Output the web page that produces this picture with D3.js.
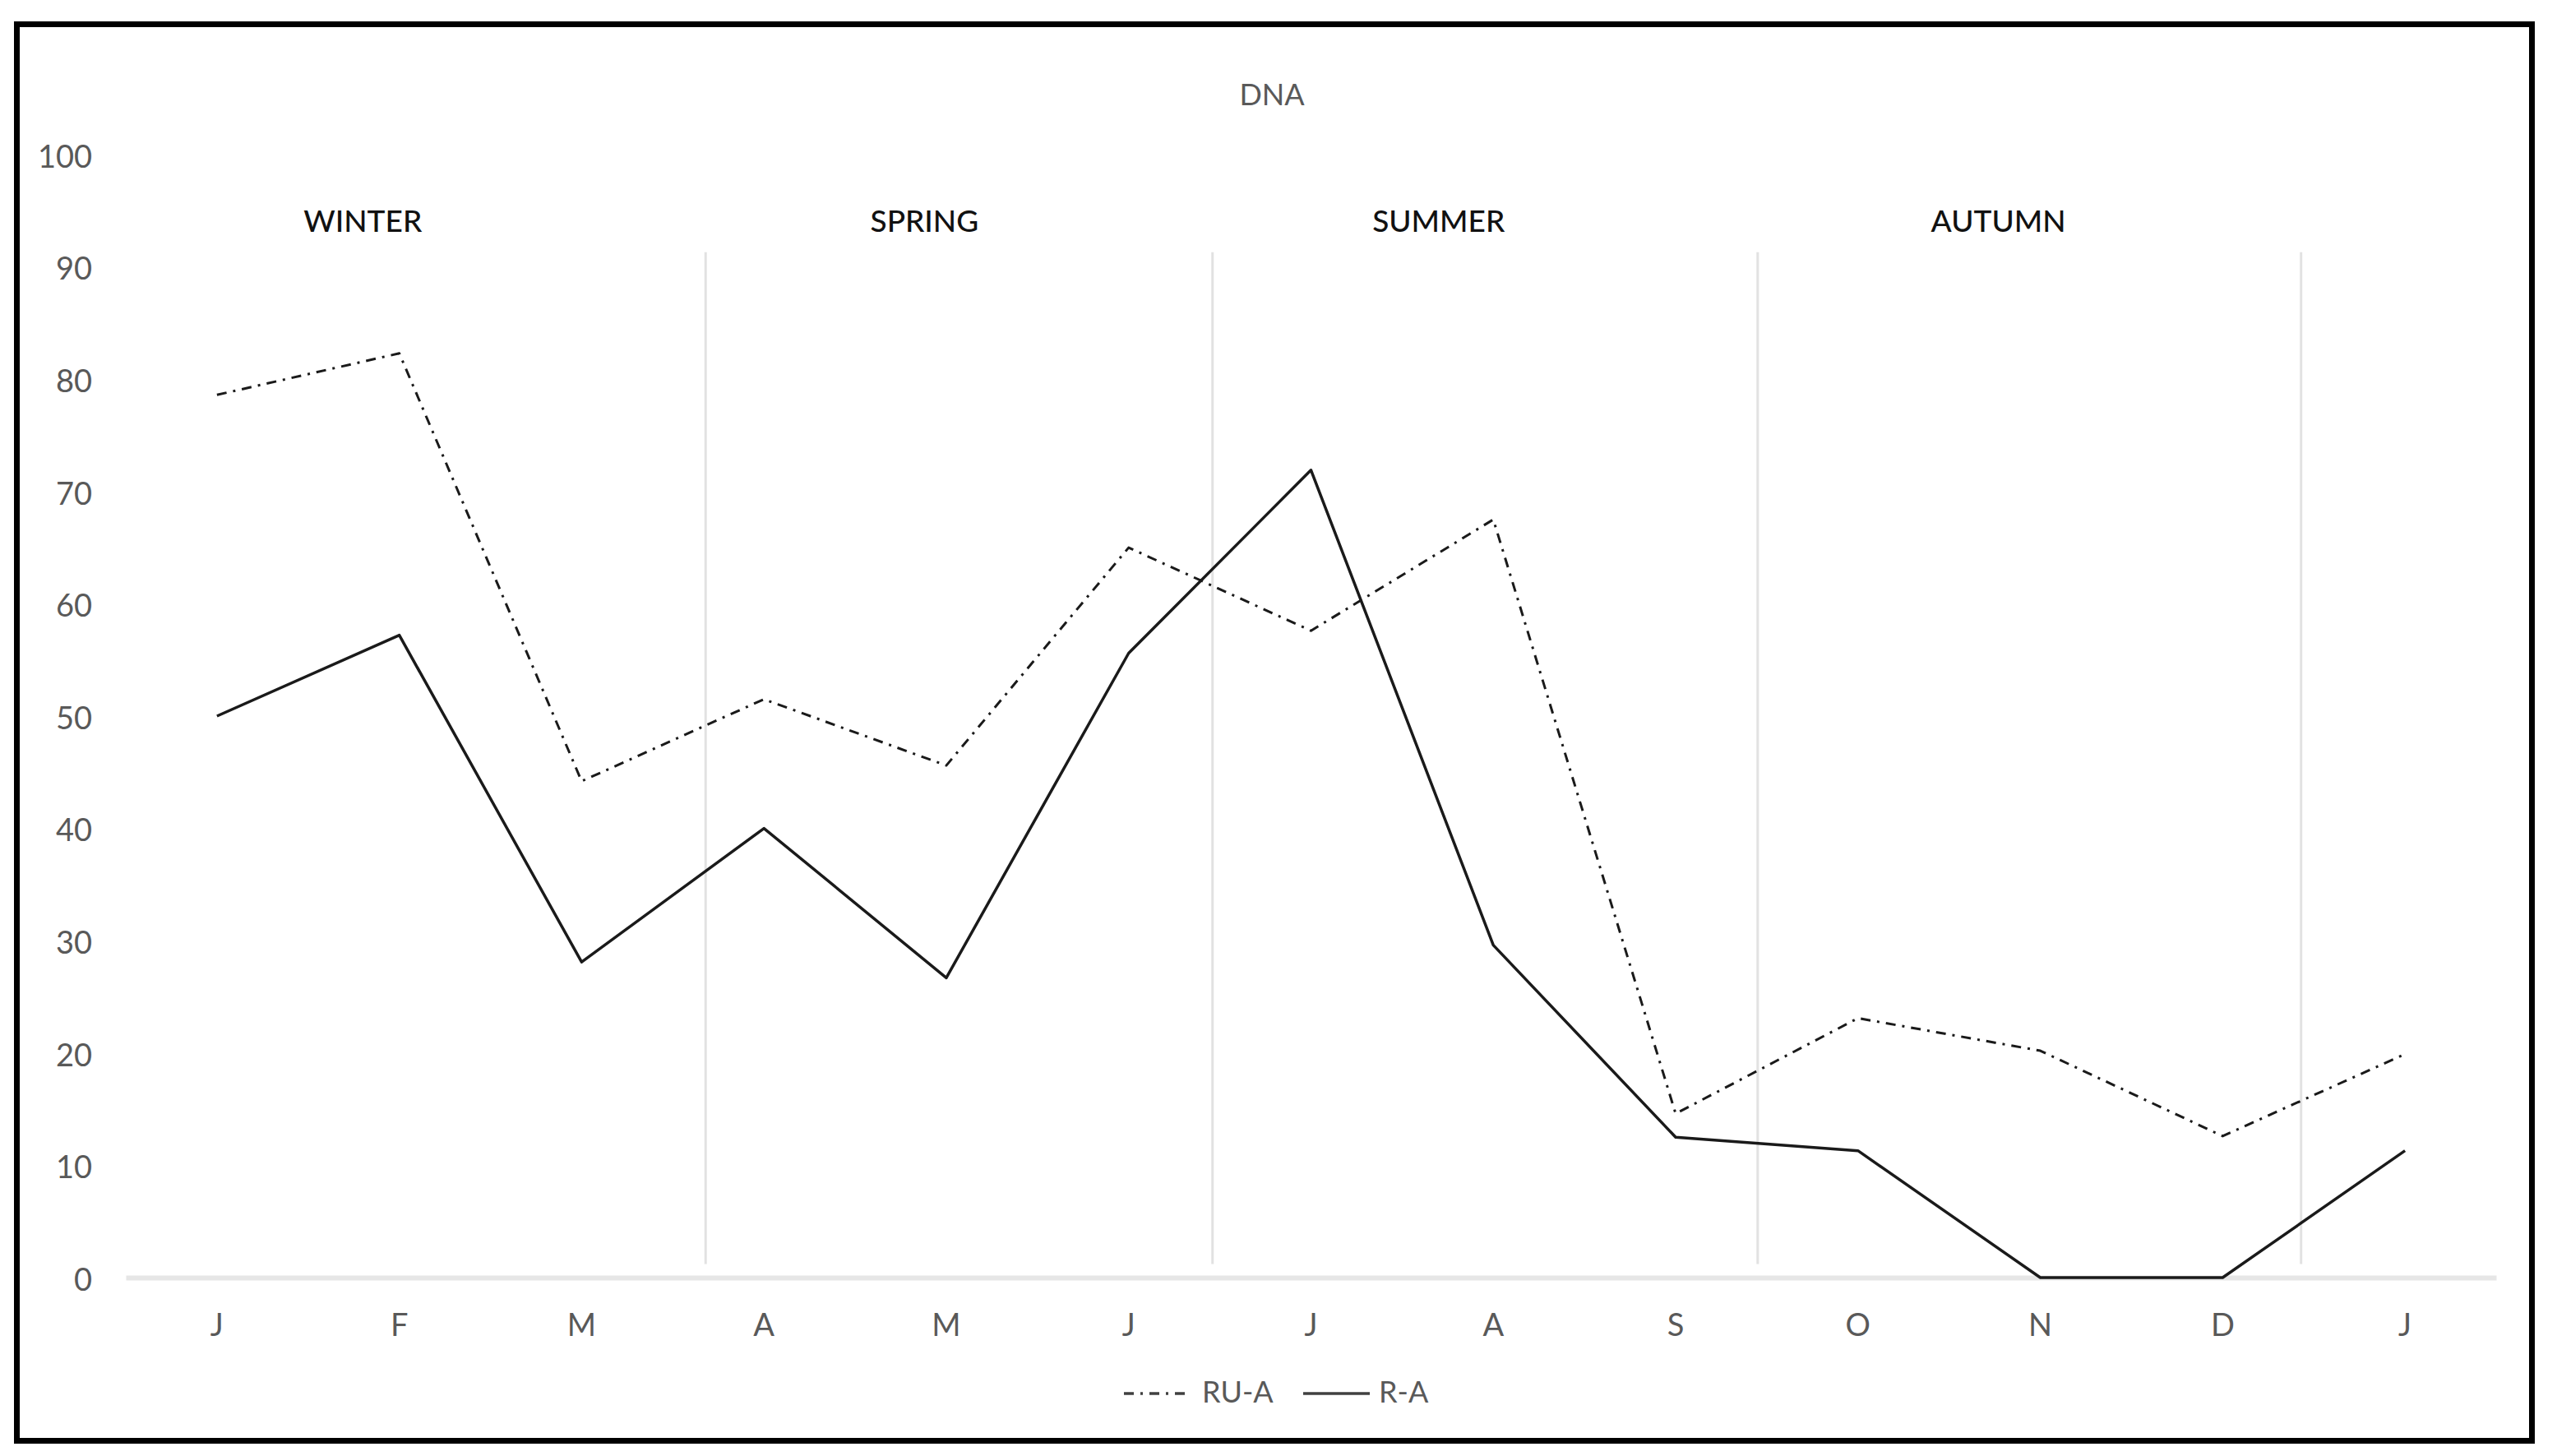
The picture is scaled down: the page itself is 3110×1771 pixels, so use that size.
<!DOCTYPE html>
<html>
<head>
<meta charset="utf-8">
<script src="https://cdn.jsdelivr.net/npm/d3@7"></script>
<style>
  html, body { margin: 0; padding: 0; background: #fff; }
  svg { display: block; }
  text { font-family: Lato, "Open Sans", sans-serif; }
</style>
</head>
<body>
<svg id="chart" width="3110" height="1771"></svg>
<script>
const months = ["J","F","M","A","M","J","J","A","S","O","N","D","J"];
const ruA = [78.6, 82.3, 44.2, 51.5, 45.6, 65.0, 57.6, 67.5, 14.6, 23.1, 20.2, 12.6, 19.9];
const rA  = [50.0, 57.2, 28.1, 40.0, 26.7, 55.6, 71.9, 29.6, 12.5, 11.3, 0, 0, 11.3];
const yTicks = [0,10,20,30,40,50,60,70,80,90,100];
const seasons = ["WINTER","SPRING","SUMMER","AUTUMN"];
const seasonCenters = [1.30, 4.38, 7.20, 10.27];      // in month-band units
const seasonDividers = [3.18, 5.96, 8.95, 11.93];     // in month-band units
const seasonLabelValue = 93.8;
const dividerRange = [1.2, 91.3];
const title = "DNA";
const seriesNames = ["RU-A", "R-A"];

const svg = d3.select("#chart");
const plot = {left: 153, right: 3036, top: 188, bottom: 1554};

// outer frame
svg.append("rect")
  .attr("x", 20.5).attr("y", 29.5).attr("width", 3059).attr("height", 1723)
  .attr("fill", "#fff").attr("stroke", "#000").attr("stroke-width", 7);

const idx = months.map((d, i) => i);
const x = d3.scaleBand().domain(idx).range([plot.left, plot.right]).padding(0);
const xu = d3.scaleLinear().domain([0, months.length]).range([plot.left, plot.right]);
const y = d3.scaleLinear().domain([0, 100]).range([plot.bottom, plot.top]);
const cx = i => x(i) + x.bandwidth() / 2;

// title
svg.append("text")
  .attr("x", 1547).attr("y", 119)
  .attr("text-anchor", "middle").attr("dominant-baseline", "middle")
  .attr("fill", "#595959").attr("font-size", 36).text(title);

// y axis labels
const yAxis = svg.append("g")
  .attr("transform", `translate(${plot.left},0)`)
  .call(d3.axisLeft(y).tickValues(yTicks).tickSize(0).tickPadding(41).tickFormat(d3.format("d")));
yAxis.select(".domain").remove();
yAxis.selectAll("text")
  .attr("dy", "0.4em")
  .attr("fill", "#595959").attr("font-size", 38)
  .style("font-family", "Lato, 'Open Sans', sans-serif");

// season dividers
svg.append("g").selectAll("line").data(seasonDividers).join("line")
  .attr("x1", d => xu(d)).attr("x2", d => xu(d))
  .attr("y1", y(dividerRange[1])).attr("y2", y(dividerRange[0]))
  .attr("stroke", "#e2e2e2").attr("stroke-width", 3);

// season labels
svg.append("g").selectAll("text").data(seasons).join("text")
  .attr("x", (d, i) => xu(seasonCenters[i]))
  .attr("y", y(seasonLabelValue))
  .attr("text-anchor", "middle").attr("dominant-baseline", "middle")
  .attr("fill", "#111").attr("font-size", 37).attr("font-weight", 500)
  .text(d => d);

// x axis
const xAxis = svg.append("g")
  .attr("transform", `translate(0,${plot.bottom})`)
  .call(d3.axisBottom(x).tickSize(0).tickFormat(i => months[i]));
xAxis.select(".domain")
  .attr("stroke", "#e6e6e6").attr("stroke-width", 6);
xAxis.selectAll("text")
  .attr("y", 58).attr("dy", "0.35em")
  .attr("fill", "#595959").attr("font-size", 38)
  .style("font-family", "Lato, 'Open Sans', sans-serif");

// lines
const line = d3.line().x((d, i) => cx(i)).y(d => y(d));
svg.append("path").datum(ruA)
  .attr("d", line).attr("fill", "none")
  .attr("stroke", "#1a1a1a").attr("stroke-width", 3)
  .attr("stroke-dasharray", "12,8,3,8")
  .attr("stroke-linejoin", "round");
svg.append("path").datum(rA)
  .attr("d", line).attr("fill", "none")
  .attr("stroke", "#1a1a1a").attr("stroke-width", 3.5)
  .attr("stroke-linejoin", "round");

// legend
const legY = 1695;
const leg = svg.append("g");
const legendItems = [
  {name: seriesNames[0], x0: 1367, x1: 1448, tx: 1462, dash: "12,8,3,8"},
  {name: seriesNames[1], x0: 1585, x1: 1666, tx: 1677, dash: null}
];
legendItems.forEach(it => {
  leg.append("line")
    .attr("x1", it.x0).attr("x2", it.x1).attr("y1", legY).attr("y2", legY)
    .attr("stroke", "#404040").attr("stroke-width", 3.5)
    .attr("stroke-dasharray", it.dash);
  leg.append("text")
    .attr("x", it.tx).attr("y", legY + 2).attr("dominant-baseline", "middle")
    .attr("fill", "#595959").attr("font-size", 36).text(it.name);
});
</script>
</body>
</html>
